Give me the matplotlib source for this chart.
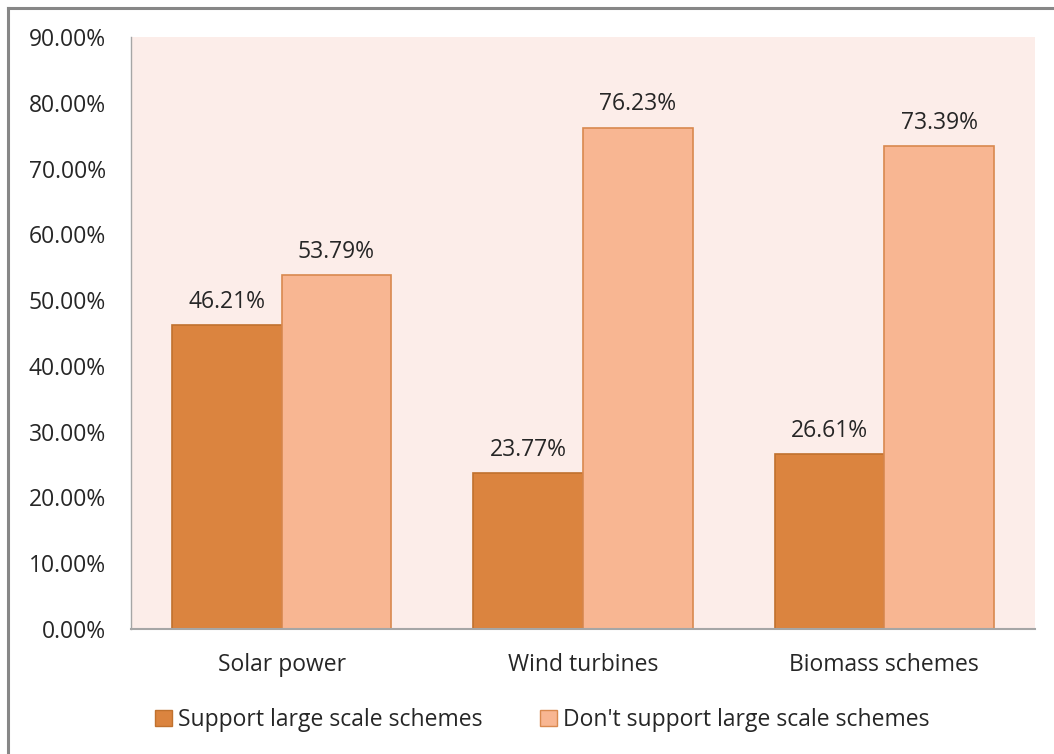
import matplotlib.pyplot as plt
from matplotlib.patches import Patch
from matplotlib.lines import Line2D
from matplotlib.ticker import FuncFormatter
import numpy as np

categories = ['Solar power', 'Wind turbines', 'Biomass schemes']
support = [46.21, 23.77, 26.61]
dont_support = [53.79, 76.23, 73.39]
series_names = ['Support large scale schemes', "Don't support large scale schemes"]

dark_fill, dark_edge = '#DB843F', '#C0712E'
light_fill, light_edge = '#F8B692', '#D9894F'
fs = 16.5

plt.rcParams['font.family'] = ['Open Sans', 'DejaVu Sans']
plt.rcParams['text.color'] = '#262626'

fig = plt.figure(figsize=(10.54, 7.54), dpi=100)
ax = fig.add_axes([131 / 1054, 1 - 629 / 754, 904 / 1054, 592 / 754])
ax.set_facecolor('#FCEDE9')

x = np.arange(len(categories))
w = 0.3636
b1 = ax.bar(x - w / 2, support, w, color=dark_fill, edgecolor=dark_edge, linewidth=1.2)
b2 = ax.bar(x + w / 2, dont_support, w, color=light_fill, edgecolor=light_edge, linewidth=1.2)

for bars, vals in ((b1, support), (b2, dont_support)):
    for rect, v in zip(bars, vals):
        ax.annotate(f'{v:.2f}%', (rect.get_x() + rect.get_width() / 2, v),
                    xytext=(0, 8), textcoords='offset points',
                    ha='center', va='bottom', fontsize=fs, color='#262626')

ax.set_xlim(-0.5, 2.5)
ax.set_ylim(0, 90)
ax.set_yticks(np.arange(0, 91, 10))
ax.yaxis.set_major_formatter(FuncFormatter(lambda v, p: f'{v:.2f}%'))
ax.set_xticks(x)
ax.set_xticklabels(categories)
ax.tick_params(axis='y', length=0, pad=18, labelsize=fs, labelcolor='#262626')
ax.tick_params(axis='x', length=0, pad=17, labelsize=fs, labelcolor='#262626')

for side in ('top', 'right'):
    ax.spines[side].set_visible(False)
ax.spines['bottom'].set_color('#A6A6A6')
ax.spines['bottom'].set_linewidth(1.5)
ax.spines['left'].set_color('#A6A6A6')
ax.spines['left'].set_linewidth(1.0)

handles = [Patch(facecolor=dark_fill, edgecolor=dark_edge), Patch(facecolor=light_fill, edgecolor=light_edge)]
fig.legend(handles, series_names, loc='center', bbox_to_anchor=(542 / 1054, 1 - 720 / 754),
           ncol=2, frameon=False, fontsize=fs, handlelength=0.75, handleheight=0.75,
           handletextpad=0.25, columnspacing=2.5)

# outer chart frame
fig.add_artist(Line2D([7.5 / 1054, 1], [1 - 7.5 / 754, 1 - 7.5 / 754], color='#878787', lw=2.2))
fig.add_artist(Line2D([7.5 / 1054, 7.5 / 1054], [0, 1 - 7.5 / 754], color='#878787', lw=2.2))

fig.savefig('out.png', dpi=100)
